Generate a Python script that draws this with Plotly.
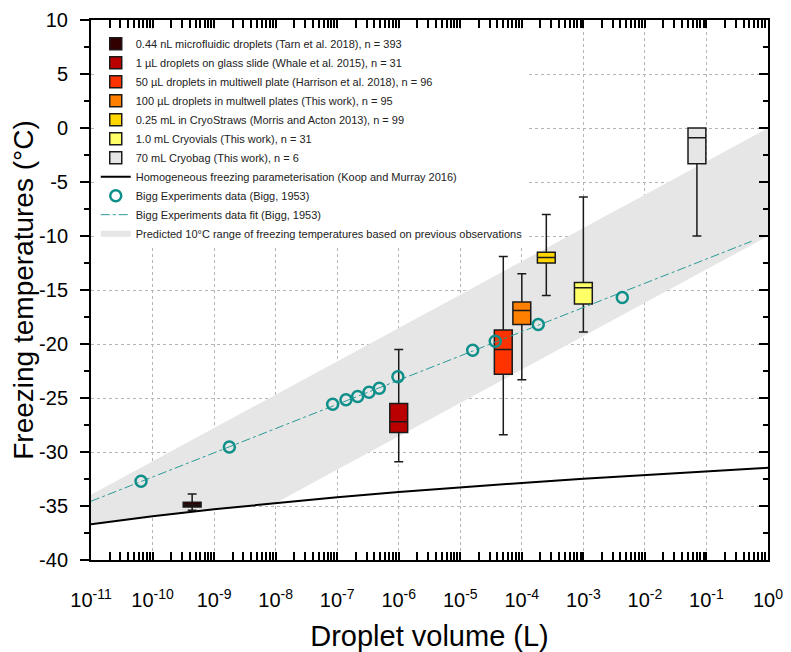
import plotly.graph_objects as go

FONT = "Arial, 'Liberation Sans', sans-serif"

# ---------------- data ----------------
box_labels = [
    "0.44 nL microfluidic droplets (Tarn et al. 2018), n = 393",
    "1 µL droplets on glass slide (Whale et al. 2015), n = 31",
    "50 µL droplets in multiwell plate (Harrison et al. 2018), n = 96",
    "100 µL droplets in multwell plates (This work), n = 95",
    "0.25 mL in CryoStraws (Morris and Acton 2013), n = 99",
    "1.0 mL Cryovials (This work), n = 31",
    "70 mL Cryobag (This work), n = 6",
]
box_volume = [4.4e-10, 1e-6, 5e-5, 1e-4, 2.5e-4, 1e-3, 7e-2]
box_lower = [-35.4, -30.9, -28.4, -23.3, -15.5, -18.9, -10.0]
box_q1 = [-35.1, -28.2, -22.8, -18.2, -12.5, -16.3, -3.3]
box_median = [-34.9, -27.2, -20.5, -16.9, -12.0, -14.8, -0.9]
box_q3 = [-34.65, -25.5, -18.7, -16.1, -11.5, -14.3, 0.0]
box_upper = [-33.9, -20.5, -11.9, -13.5, -8.0, -6.4, 0.0]
box_colors = ["#330000", "#bb0000", "#ff3300", "#ff8000", "#ffd700", "#ffff66", "#e6e6e6"]

homog_label = "Homogeneous freezing parameterisation (Koop and Murray 2016)"
homog_v = [1e-11, 1e-10, 1e-9, 1e-8, 1e-7, 1e-6, 1e-5, 1e-4, 1e-3, 1e-2, 1e-1, 1e0]
homog_t = [-36.70, -35.95, -35.30, -34.72, -34.19, -33.71, -33.27, -32.86, -32.48, -32.12, -31.78, -31.46]

bigg_label = "Bigg Experiments data (Bigg, 1953)"
bigg_v = [6.5e-11, 1.77e-9, 8.45e-8, 1.39e-7, 2.15e-7, 3.29e-7, 4.83e-7, 9.7e-7,
          1.59e-5, 3.7e-5, 1.85e-4, 4.29e-3]
bigg_t = [-32.7, -29.54, -25.57, -25.17, -24.86, -24.47, -24.1, -23.03,
          -20.58, -19.75, -18.19, -15.69]

fit_label = "Bigg Experiments data fit (Bigg, 1953)"
fit_v = [1e-11, 0.54]
fit_t = [-34.56, -10.49]

band_label = "Predicted 10°C range of freezing temperatures based on previous observations"
band_upper_v = [1e-11, 1e0]
band_upper_t = [-33.95, 0.0]
band_lower_v = [1e0, 1e-8, 1e-9, 1e-10, 1e-11]
band_lower_t = [-10.0, -34.72, -35.30, -35.95, -36.70]

x_tick_vals = [1e-11, 1e-10, 1e-9, 1e-8, 1e-7, 1e-6, 1e-5, 1e-4, 1e-3, 1e-2, 1e-1, 1e0]
x_tick_text = ["10<sup>-11</sup>", "10<sup>-10</sup>", "10<sup>-9</sup>", "10<sup>-8</sup>",
               "10<sup>-7</sup>", "10<sup>-6</sup>", "10<sup>-5</sup>", "10<sup>-4</sup>",
               "10<sup>-3</sup>", "10<sup>-2</sup>", "10<sup>-1</sup>", "10<sup>0</sup>"]
y_tick_vals = [10, 5, 0, -5, -10, -15, -20, -25, -30, -35, -40]
y_tick_text = ["10", "5", "0", "-5", "-10", "-15", "-20", "-25", "-30", "-35", "-40"]

# ---------------- figure ----------------
fig = go.Figure()

# bottom subplot (x, y): band and homogeneous line
fig.add_trace(go.Scatter(
    x=band_upper_v + band_lower_v, y=band_upper_t + band_lower_t,
    mode="none", fill="toself", fillcolor="#e6e6e6",
    name=band_label, legendrank=11, hoverinfo="skip"))

fig.add_trace(go.Scatter(
    x=homog_v, y=homog_t, mode="lines", line=dict(color="black", width=2),
    name=homog_label, legendrank=8, hoverinfo="skip"))

# overlay subplot (x, y2): boxes, then Bigg fit and data on top
for i in range(len(box_labels)):
    fig.add_trace(go.Box(
        x=[box_volume[i]], lowerfence=[box_lower[i]], q1=[box_q1[i]],
        median=[box_median[i]], q3=[box_q3[i]], upperfence=[box_upper[i]],
        width=0.29, whiskerwidth=0.5, fillcolor=box_colors[i], yaxis="y2",
        line=dict(color="#1a1a1a", width=1.5), boxpoints=False,
        name=box_labels[i], legendrank=i + 1, hoverinfo="skip"))

fig.add_trace(go.Scatter(
    x=fit_v, y=fit_t, mode="lines", yaxis="y2",
    line=dict(color="#2a9a96", width=1, dash="dashdot"),
    name=fit_label, legendrank=10, hoverinfo="skip"))
fig.add_trace(go.Scatter(
    x=bigg_v, y=bigg_t, mode="markers", yaxis="y2",
    marker=dict(symbol="circle-open", size=11, color="#0e8f8a",
                line=dict(width=2.5, color="#0e8f8a")),
    name=bigg_label, legendrank=9, hoverinfo="skip"))

grid = dict(showgrid=True, gridcolor="#b5b5b5", gridwidth=1, griddash="dot")

fig.update_layout(
    width=791, height=652,
    margin=dict(l=83, r=31, t=12, b=100, autoexpand=False),
    paper_bgcolor="white", plot_bgcolor="white",
    font=dict(family=FONT, color="black"),
    boxmode="overlay",
    showlegend=True,
    legend=dict(x=0.007, y=0.983, xanchor="left", yanchor="top",
                bgcolor="white", borderwidth=0, tracegroupgap=0,
                font=dict(family=FONT, size=11, color="#222222")),
    xaxis=dict(
        type="log", range=[-11, 0], tickmode="array", automargin=False,
        tickvals=x_tick_vals, ticktext=x_tick_text, ticklabeloverflow="allow",
        ticks="inside", ticklen=8, tickwidth=2, tickcolor="black",
        showline=True, linewidth=2, linecolor="black", mirror="allticks",
        tickfont=dict(size=20, family=FONT), ticklabelstandoff=21,
        minor=dict(ticks="inside", ticklen=4, tickwidth=1.5, tickcolor="black",
                   dtick="D1", showgrid=False),
        title=dict(text="Droplet volume (L)", font=dict(size=29, family=FONT), standoff=16),
        zeroline=False, **grid),
    yaxis=dict(
        range=[-40, 10], tickmode="array", tickvals=y_tick_vals, ticktext=y_tick_text,
        automargin=False, ticklabeloverflow="allow",
        ticks="outside", ticklen=9, tickwidth=2, tickcolor="black",
        showline=True, linewidth=2, linecolor="black", mirror=True,
        tickfont=dict(size=20, family=FONT), ticklabelstandoff=8,
        minor=dict(ticks="outside", ticklen=5, tickwidth=2, tickcolor="black",
                   dtick=2.5, tick0=0, showgrid=False),
        title=dict(text="Freezing temperatures (°C)", font=dict(size=28, family=FONT), standoff=16),
        zeroline=False, **grid),
    yaxis2=dict(
        range=[-40, 10], overlaying="y", side="right", anchor="x", automargin=False,
        tickmode="array", tickvals=y_tick_vals, showticklabels=False,
        ticks="inside", ticklen=9, tickwidth=2, tickcolor="black",
        minor=dict(ticks="inside", ticklen=5, tickwidth=2, tickcolor="black",
                   dtick=2.5, tick0=0, showgrid=False),
        showgrid=False, zeroline=False, showline=False),
)

fig.write_html("out.html")
